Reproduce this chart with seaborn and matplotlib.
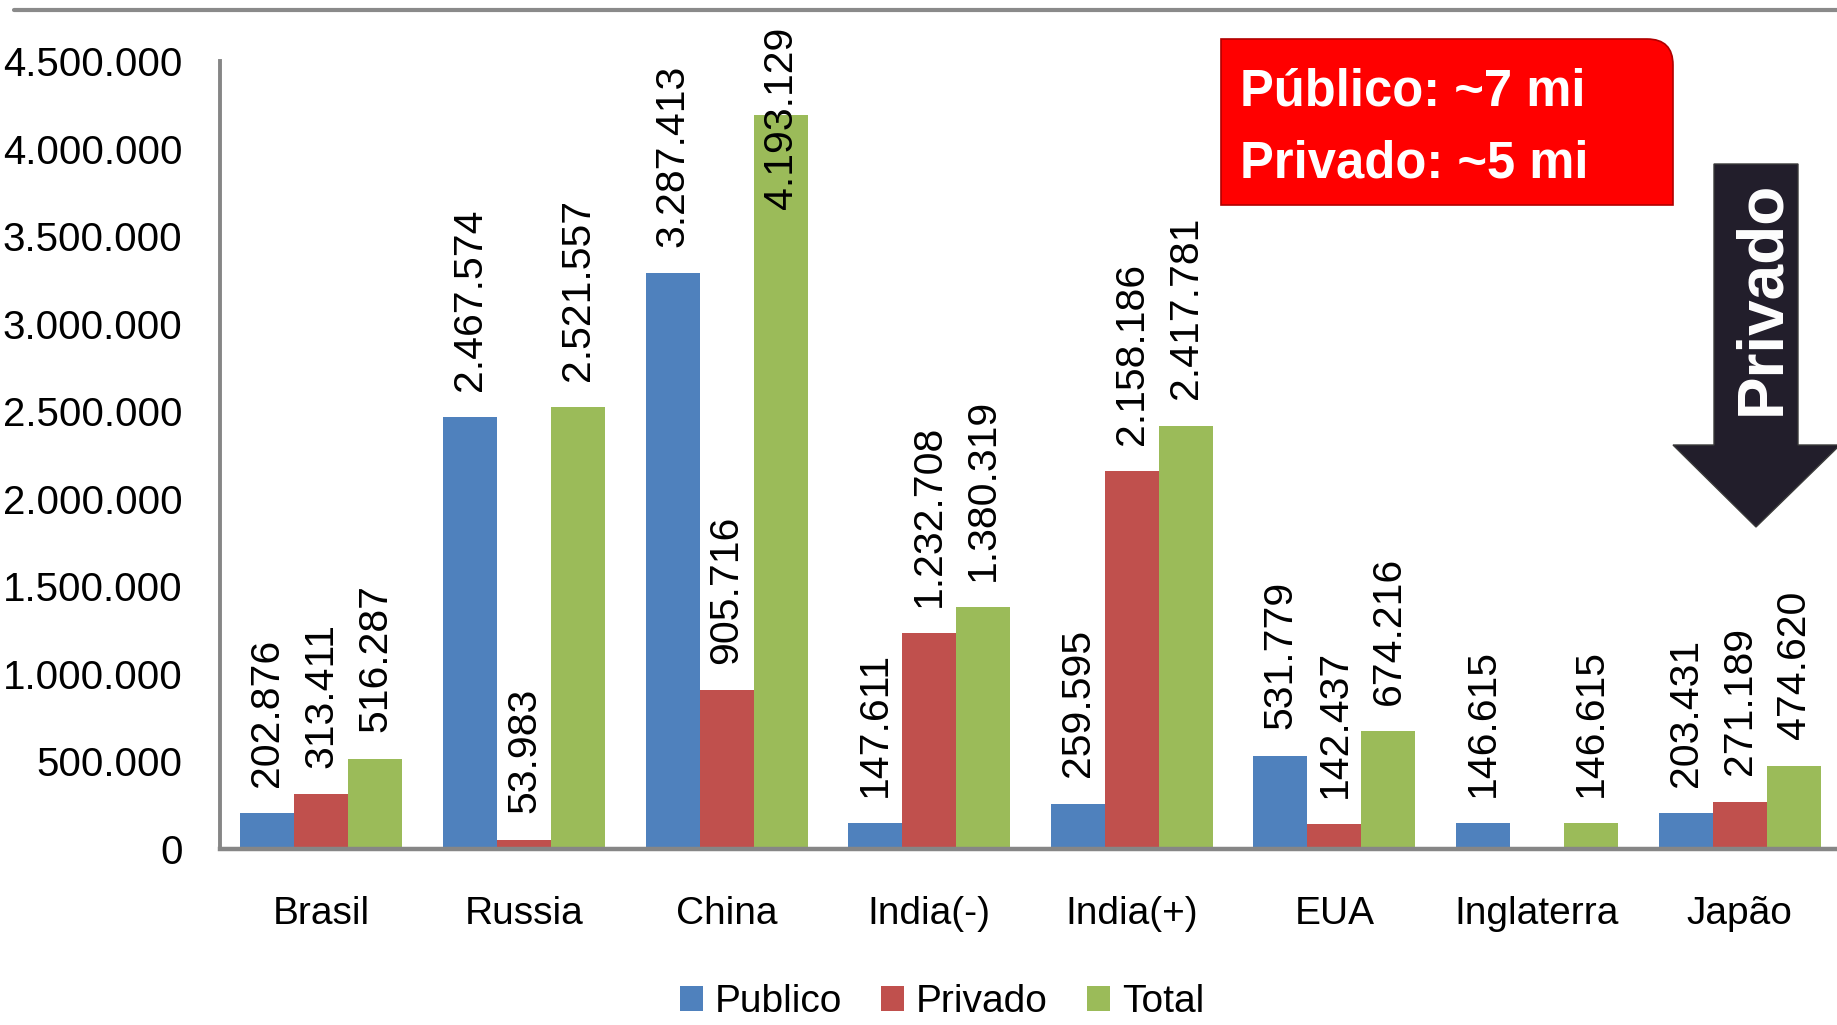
import numpy as np
import pandas as pd
import matplotlib.pyplot as plt
import seaborn as sns
from matplotlib.path import Path
from matplotlib.patches import PathPatch, Polygon
from matplotlib.lines import Line2D
from matplotlib.ticker import FuncFormatter

# Dados
paises = ['Brasil', 'Russia', 'China', 'India(-)', 'India(+)', 'EUA', 'Inglaterra', 'Japão']
series = ['Publico', 'Privado', 'Total']
publico = [202876, 2467574, 3287413, 147611, 259595, 531779, 146615, 203431]
privado = [313411, 53983, 905716, 1232708, 2158186, 142437, np.nan, 271189]
total = [516287, 2521557, 4193129, 1380319, 2417781, 674216, 146615, 474620]
cores = ['#4F81BD', '#C0504D', '#9BBB59']
y_ticks = np.arange(0, 4500001, 500000)

df = pd.DataFrame({
    'pais': paises * 3,
    'tipo': np.repeat(series, len(paises)),
    'valor': publico + privado + total,
})

sns.set_style('white')
plt.rcParams['font.family'] = ['Liberation Sans', 'DejaVu Sans']
plt.rcParams['text.color'] = 'black'
plt.rcParams['xtick.color'] = 'black'
plt.rcParams['ytick.color'] = 'black'

W, H = 1837, 1025
fig = plt.figure(figsize=(W / 100, H / 100), dpi=100)


def px(x, y):
    # pixel da figura -> fração da figura
    return (x / W, 1 - y / H)


ax = fig.add_axes([220 / W, 1 - 849 / H, 1621 / W, 788 / H])
sns.barplot(data=df, x='pais', y='valor', hue='tipo', order=paises, hue_order=series,
            palette=cores, saturation=1, width=0.8, linewidth=0, ax=ax)

ax.set_xlim(-0.5, len(paises) - 0.5)
ax.set_ylim(0, 4500000)
ax.set_yticks(y_ticks)
ax.yaxis.set_major_formatter(FuncFormatter(lambda v, p: f'{v:,.0f}'.replace(',', '.')))
ax.set_xlabel('')
ax.set_ylabel('')
ax.tick_params(axis='y', length=0, pad=27, labelsize=29, labelcolor='black')
ax.tick_params(axis='x', length=0, pad=34, labelsize=28, labelcolor='black')
for s in ['top', 'right']:
    ax.spines[s].set_visible(False)
ax.spines['left'].set_color('#868686')
ax.spines['left'].set_linewidth(2.8)
ax.spines['bottom'].set_color('#868686')
ax.spines['bottom'].set_linewidth(3.2)

# rótulos de valor
for cont in ax.containers:
    for bar in cont:
        h = bar.get_height()
        if np.isnan(h) or h == 0:
            continue
        x = bar.get_x() + bar.get_width() / 2
        txt = f'{h:,.0f}'.replace(',', '.')
        if h > 0.85 * 4500000:
            ax.annotate(txt, xy=(x, 1), xycoords=('data', 'axes fraction'),
                        xytext=(0, 25), textcoords='offset points',
                        rotation=90, ha='center', va='top', fontsize=29.5, color='black')
        else:
            ax.annotate(txt, xy=(x, h), xytext=(0, 19), textcoords='offset points',
                        rotation=90, ha='center', va='bottom', fontsize=29.5, color='black')

# legenda embaixo
handles, labels = ax.get_legend_handles_labels()
if ax.get_legend() is not None:
    ax.get_legend().remove()
fig.legend(handles, labels, loc='center', bbox_to_anchor=(942 / W, 1 - 1002 / H),
           ncol=3, frameon=False, fontsize=28, handlelength=0.6, handleheight=0.6,
           handletextpad=0.3, columnspacing=1.0, borderpad=0, borderaxespad=0,
           labelcolor='black')

# linha cinza no topo
fig.add_artist(Line2D([14 / W, 1], [1 - 10 / H, 1 - 10 / H], color='#8a8a8a', lw=3,
                      transform=fig.transFigure))

# caixa vermelha com canto superior direito arredondado
r = 26
verts = [px(1221, 205), px(1673, 205), px(1673, 39 + r), px(1673, 39), px(1673 - r, 39),
         px(1221, 39), px(1221, 205)]
codes = [Path.MOVETO, Path.LINETO, Path.LINETO, Path.CURVE3, Path.CURVE3, Path.LINETO,
         Path.CLOSEPOLY]
fig.add_artist(PathPatch(Path(verts, codes), facecolor='#FF0000', edgecolor='#B00000',
                         lw=1.2, transform=fig.transFigure))
fig.text(*px(1240, 105), 'Público: ~7 mi', color='white', fontsize=36.5, fontweight='bold',
         ha='left', va='baseline')
fig.text(*px(1240, 178), 'Privado: ~5 mi', color='white', fontsize=36.5, fontweight='bold',
         ha='left', va='baseline')

# seta preta "Privado"
seta = [px(1714, 164), px(1798, 164), px(1798, 445), px(1840, 445), px(1756, 527),
        px(1673, 445), px(1714, 445)]
fig.add_artist(Polygon(seta, closed=True, facecolor='#221e2b', edgecolor='#3a3a3a', lw=1,
                       transform=fig.transFigure))
fig.text(*px(1762, 298), 'Privado', color='white', fontsize=46, fontweight='bold',
         rotation=90, ha='center', va='center')

fig.savefig('out.png', dpi=100)
